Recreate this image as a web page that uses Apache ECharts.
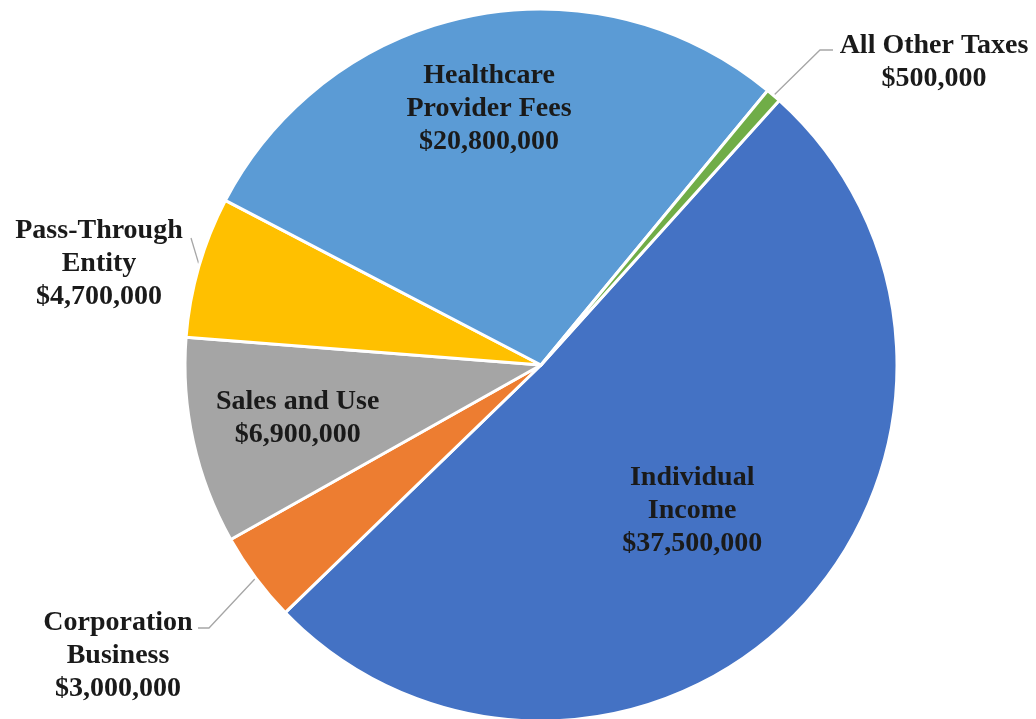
<!DOCTYPE html>
<html>
<head>
<meta charset="utf-8">
<script src="https://cdn.jsdelivr.net/npm/echarts@6/dist/echarts.min.js"></script>
<style>
  html, body { margin: 0; padding: 0; background: #fff; }
  #main { width: 1036px; height: 719px; }
</style>
</head>
<body>
<div id="main"></div>
<script>
// data
var categories = ['Individual\nIncome', 'Corporation\nBusiness', 'Sales and Use',
                  'Pass-Through\nEntity', 'Healthcare\nProvider Fees', 'All Other Taxes'];
var revenue = [37500000, 3000000, 6900000, 4700000, 20800000, 500000];
var colors = ['#4472C4', '#ED7D31', '#A5A5A5', '#FFC000', '#5B9BD5', '#70AD47'];

// layout
var cx = 541, cy = 365, R = 356, startAngle = 48;
// inside labels: fraction of radius; outside labels: text anchor + leader elbow/end
var labelPlace = [
  { r: 0.59 },
  { x: 118, y: 656, elbow: [209, 628], end: [198, 628] },
  { r: 0.70 },
  { x: 99, y: 264, elbow: [191, 238], end: [191, 238] },
  { r: 0.735 },
  { x: 934, y: 62, elbow: [820, 50], end: [833, 50] }
];

var total = revenue.reduce(function (a, b) { return a + b; }, 0);
var midAngles = [];
var acc = 90 - startAngle; // clockwise from 12 o'clock
revenue.forEach(function (v) {
  var span = v / total * 360;
  midAngles.push(acc + span / 2);
  acc += span;
});
function polar(deg, r) {
  var a = deg * Math.PI / 180;
  return [cx + r * Math.sin(a), cy - r * Math.cos(a)];
}

var myChart = echarts.init(document.getElementById('main'));

var option = {
  color: colors,
  animation: false,
  series: [{
    type: 'pie',
    center: [cx, cy],
    radius: R,
    startAngle: startAngle,
    clockwise: true,
    avoidLabelOverlap: false,
    itemStyle: { borderColor: '#fff', borderWidth: 3 },
    label: {
      show: true,
      position: 'outside',
      fontFamily: 'Liberation Serif',
      fontWeight: 'bold',
      fontSize: 28,
      lineHeight: 33,
      color: '#1a1a1a',
      align: 'center',
      verticalAlign: 'middle',
      formatter: function (p) {
        return p.name + '\n$' + p.value.toLocaleString('en-US');
      }
    },
    labelLine: {
      show: true,
      length: 10,
      length2: 10,
      lineStyle: { color: '#A6A6A6', width: 1.3 }
    },
    labelLayout: function (params) {
      var i = params.dataIndex;
      var pl = labelPlace[i];
      if (pl.r) {
        var p = polar(midAngles[i], pl.r * R);
        return { x: p[0], y: p[1], align: 'center', verticalAlign: 'middle' };
      }
      return {
        x: pl.x, y: pl.y, align: 'center', verticalAlign: 'middle',
        labelLinePoints: [polar(midAngles[i], R - 1), pl.elbow, pl.end]
      };
    },
    data: categories.map(function (c, i) {
      var d = { name: c, value: revenue[i] };
      if (labelPlace[i].r) d.labelLine = { show: false };
      return d;
    })
  }]
};

myChart.setOption(option);
</script>
</body>
</html>
